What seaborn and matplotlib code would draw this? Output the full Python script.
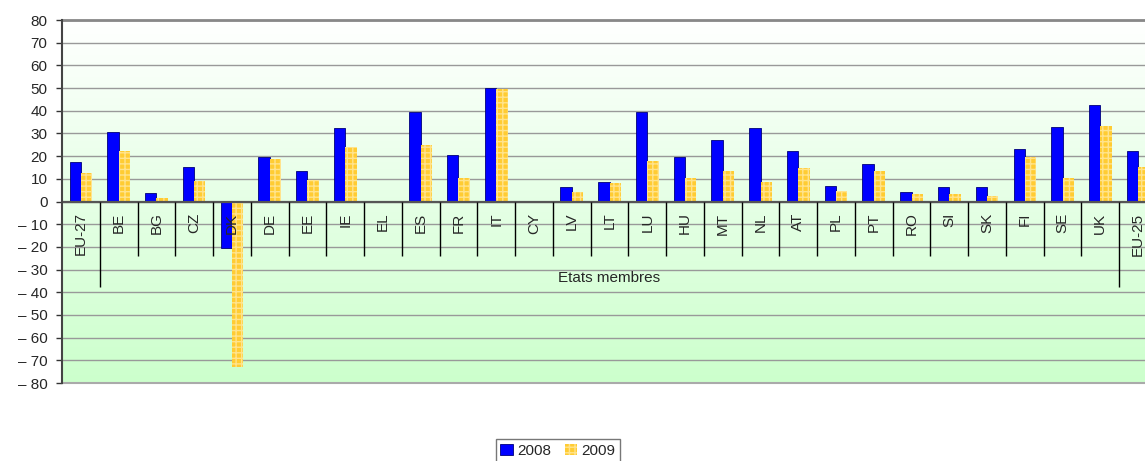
import numpy as np
import pandas as pd
import matplotlib
matplotlib.use("Agg")
import matplotlib.pyplot as plt
import seaborn as sns
from matplotlib.patches import Patch

# ---- data ----
countries = ["EU-27", "BE", "BG", "CZ", "DK", "DE", "EE", "IE", "EL", "ES", "FR", "IT",
             "CY", "LV", "LT", "LU", "HU", "MT", "NL", "AT", "PL", "PT", "RO", "SI",
             "SK", "FI", "SE", "UK", "EU-25"]
v2008 = [17.6, 30.7, 3.7, 15.1, -20.3, 19.6, 13.5, 32.5, 0.0, 39.5, 20.4, 50.2,
         0.0, 6.5, 8.7, 39.5, 19.8, 26.9, 32.2, 22.3, 7.0, 16.7, 4.4, 6.3,
         6.6, 23.2, 32.8, 42.7, 22.3]
v2009 = [12.6, 22.3, 1.6, 9.1, -73.1, 18.8, 9.6, 24.1, 0.0, 25.0, 10.4, 49.6,
         0.0, 4.3, 8.2, 17.9, 10.4, 13.5, 8.7, 14.8, 4.7, 13.5, 3.4, 3.4,
         2.5, 19.8, 10.4, 33.3, 15.3]
years = ["2008", "2009"]
group_label = "Etats membres"
yticks = list(range(-80, 90, 10))

df = pd.DataFrame({
    "pays": countries * 2,
    "val": v2008 + v2009,
    "annee": [years[0]] * len(countries) + [years[1]] * len(countries),
})

sns.set_style("white")
plt.rcParams["font.family"] = ["Liberation Sans", "DejaVu Sans"]
plt.rcParams["hatch.linewidth"] = 1.0

W, H = 1145, 461
fig = plt.figure(figsize=(W / 100, H / 100), dpi=100)
ax = fig.add_axes([62 / W, (H - 383) / H, (1157 - 62) / W, (383 - 20) / H])
ax.patch.set_visible(False)

# background gradient
grad = np.linspace(0, 1, 256).reshape(-1, 1)
top = np.array([1.0, 1.0, 1.0])
bot = np.array([0xCC, 0xFF, 0xCC]) / 255.0
img = top[None, None, :] * (1 - grad[..., None]) + bot[None, None, :] * grad[..., None]
ax.imshow(img, extent=[0, 1, 0, 1], transform=ax.transAxes, aspect="auto", zorder=0.1)

sns.barplot(data=df, x="pays", y="val", hue="annee", palette=["#0000FF", "#FFCC33"],
            width=0.6, saturation=1, ax=ax, legend=False, zorder=3)

for p in ax.containers[0]:
    p.set_edgecolor("#00007a")
    p.set_linewidth(0.6)
for p in ax.containers[1]:
    p.set_hatch("+++")
    p.set_edgecolor("#FFE38C")
    p.set_linewidth(0)

ax.set_xlim(-0.5, len(countries) - 0.5)
ax.set_ylim(-80, 80)
ax.set_yticks(yticks)
ax.set_yticklabels([("– %d" % -t) if t < 0 else "%d" % t for t in yticks], fontsize=11)
ax.tick_params(axis="y", length=4, width=1, color="#333333", pad=6.5, left=True)
ax.set_xticks([])
ax.set_xlabel("")
ax.set_ylabel("")
ax.yaxis.grid(True, color="#999999", lw=1, zorder=1)
ax.set_axisbelow(True)

for s in ["right"]:
    ax.spines[s].set_visible(False)
ax.spines["top"].set_color("#888888")
ax.spines["top"].set_linewidth(2)
ax.spines["bottom"].set_color("#aaaaaa")
ax.spines["bottom"].set_linewidth(1.5)
ax.spines["left"].set_color("#444444")
ax.spines["left"].set_linewidth(1.5)
ax.spines["left"].set_zorder(5)

# zero line
ax.axhline(0, color="#555555", lw=1.6, zorder=4)

# category labels and separators
for i, c in enumerate(countries):
    ax.text(i, -4.8, c, rotation=90, ha="center", va="top", fontsize=11, zorder=6)
for i in range(len(countries) - 1):
    long = i == 0 or i == len(countries) - 2
    ax.vlines(i + 0.5, -37.9 if long else -24.2, 0, color="#000000", lw=1, zorder=4)
ax.text((len(countries) - 1) / 2, -33.5, group_label, ha="center", va="center", fontsize=11)

# legend
handles = [Patch(facecolor="#0000FF", edgecolor="#00007a", lw=0.6),
           Patch(facecolor="#FFCC33", edgecolor="#FFE38C", hatch="+++", lw=0)]
leg = fig.legend(handles, years, loc="upper center", bbox_to_anchor=(558 / W, 1 - 439 / H),
                 ncol=2, fontsize=11, frameon=True, fancybox=False, handlelength=0.8,
                 handleheight=0.8, handletextpad=0.3, columnspacing=0.9, borderpad=0.3,
                 borderaxespad=0)
leg.get_frame().set_edgecolor("#555555")
leg.get_frame().set_linewidth(1)

fig.savefig("out.png", dpi=100)
